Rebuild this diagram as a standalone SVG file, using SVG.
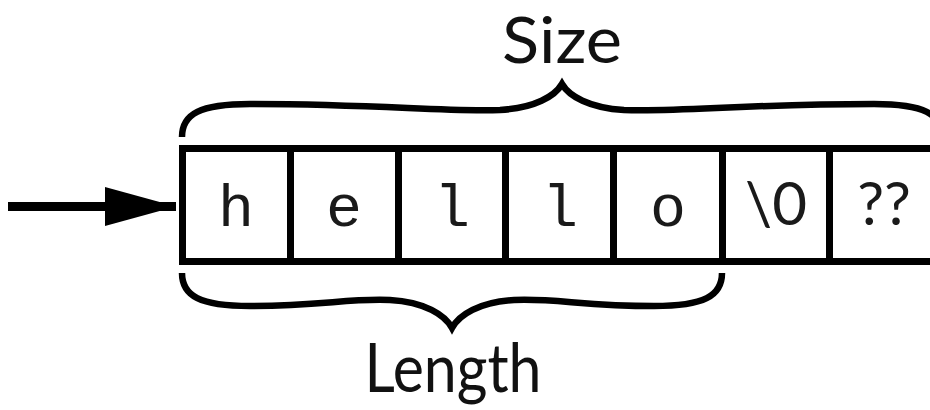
<svg xmlns="http://www.w3.org/2000/svg" width="930" height="410" viewBox="0 0 930 410">
<defs>
<style>
.box{fill:#fff;stroke:#000;stroke-width:7}
.brace{fill:none;stroke:#000;stroke-width:6.5;stroke-linecap:butt;stroke-linejoin:miter}
.mono{font-family:"Liberation Mono","DejaVu Sans Mono",monospace;font-size:60px;fill:#1a1a1a;text-anchor:middle}
.sans{font-family:Lato,"Noto Sans","Liberation Sans",sans-serif;font-size:60px;fill:#1a1a1a;text-anchor:middle}
.lbl{font-family:Lato,"Noto Sans","Liberation Sans",sans-serif;fill:#111;text-anchor:middle}
</style>
<marker id="ah" markerUnits="userSpaceOnUse" markerWidth="72" markerHeight="40" refX="71" refY="19.5" orient="auto">
<polygon points="0,0 71,19.5 0,39" fill="#000"/>
</marker>
</defs>
<rect width="930" height="410" fill="#fff"/>
<g id="cells">
<g id="cell-h"><rect class="box" x="182.5" y="148.5" width="108" height="113"/><text class="mono" x="236" y="226">h</text></g>
<g id="cell-e"><rect class="box" x="290.5" y="148.5" width="108" height="113"/><text class="mono" x="344" y="226">e</text></g>
<g id="cell-l1"><rect class="box" x="398.5" y="148.5" width="107" height="113"/><text class="mono" x="452" y="226">l</text></g>
<g id="cell-l2"><rect class="box" x="505.5" y="148.5" width="108" height="113"/><text class="mono" x="560" y="226">l</text></g>
<g id="cell-o"><rect class="box" x="613.5" y="148.5" width="109" height="113"/><text class="mono" x="668" y="226">o</text></g>
<g id="cell-nul"><rect class="box" x="722.5" y="148.5" width="107" height="113"/><text class="sans" x="776" y="225">\0</text></g>
<g id="cell-qq"><rect class="box" x="829.5" y="148.5" width="110" height="113"/><text class="sans" x="884" y="225">??</text></g>
</g>
<g id="size-brace">
<path class="brace" d="M182,137 C182,114 200,104 250,104 C380,104 440,112 500,110 C535,108 555,96 562,84 C569,96 589,108 624,110 C684,112 744,104 874,104 C924,104 942,114 942,137"/>
<text class="lbl" x="562" y="63" font-size="63" textLength="120" lengthAdjust="spacingAndGlyphs">Size</text>
</g>
<g id="length-brace">
<path class="brace" d="M182,273 C182,296 200,306 250,306 C320,306 350,298 390,300 C425,302 445,315 452,328 C459,315 479,302 514,300 C554,298 584,306 654,306 C704,306 722,296 722,273"/>
<text class="lbl" x="453" y="392" font-size="68" textLength="177" lengthAdjust="spacingAndGlyphs">Length</text>
</g>
<g id="connectors">
<line x1="8" y1="206.5" x2="176" y2="206.5" stroke="#000" stroke-width="9" marker-end="url(#ah)"/>
</g>
</svg>
